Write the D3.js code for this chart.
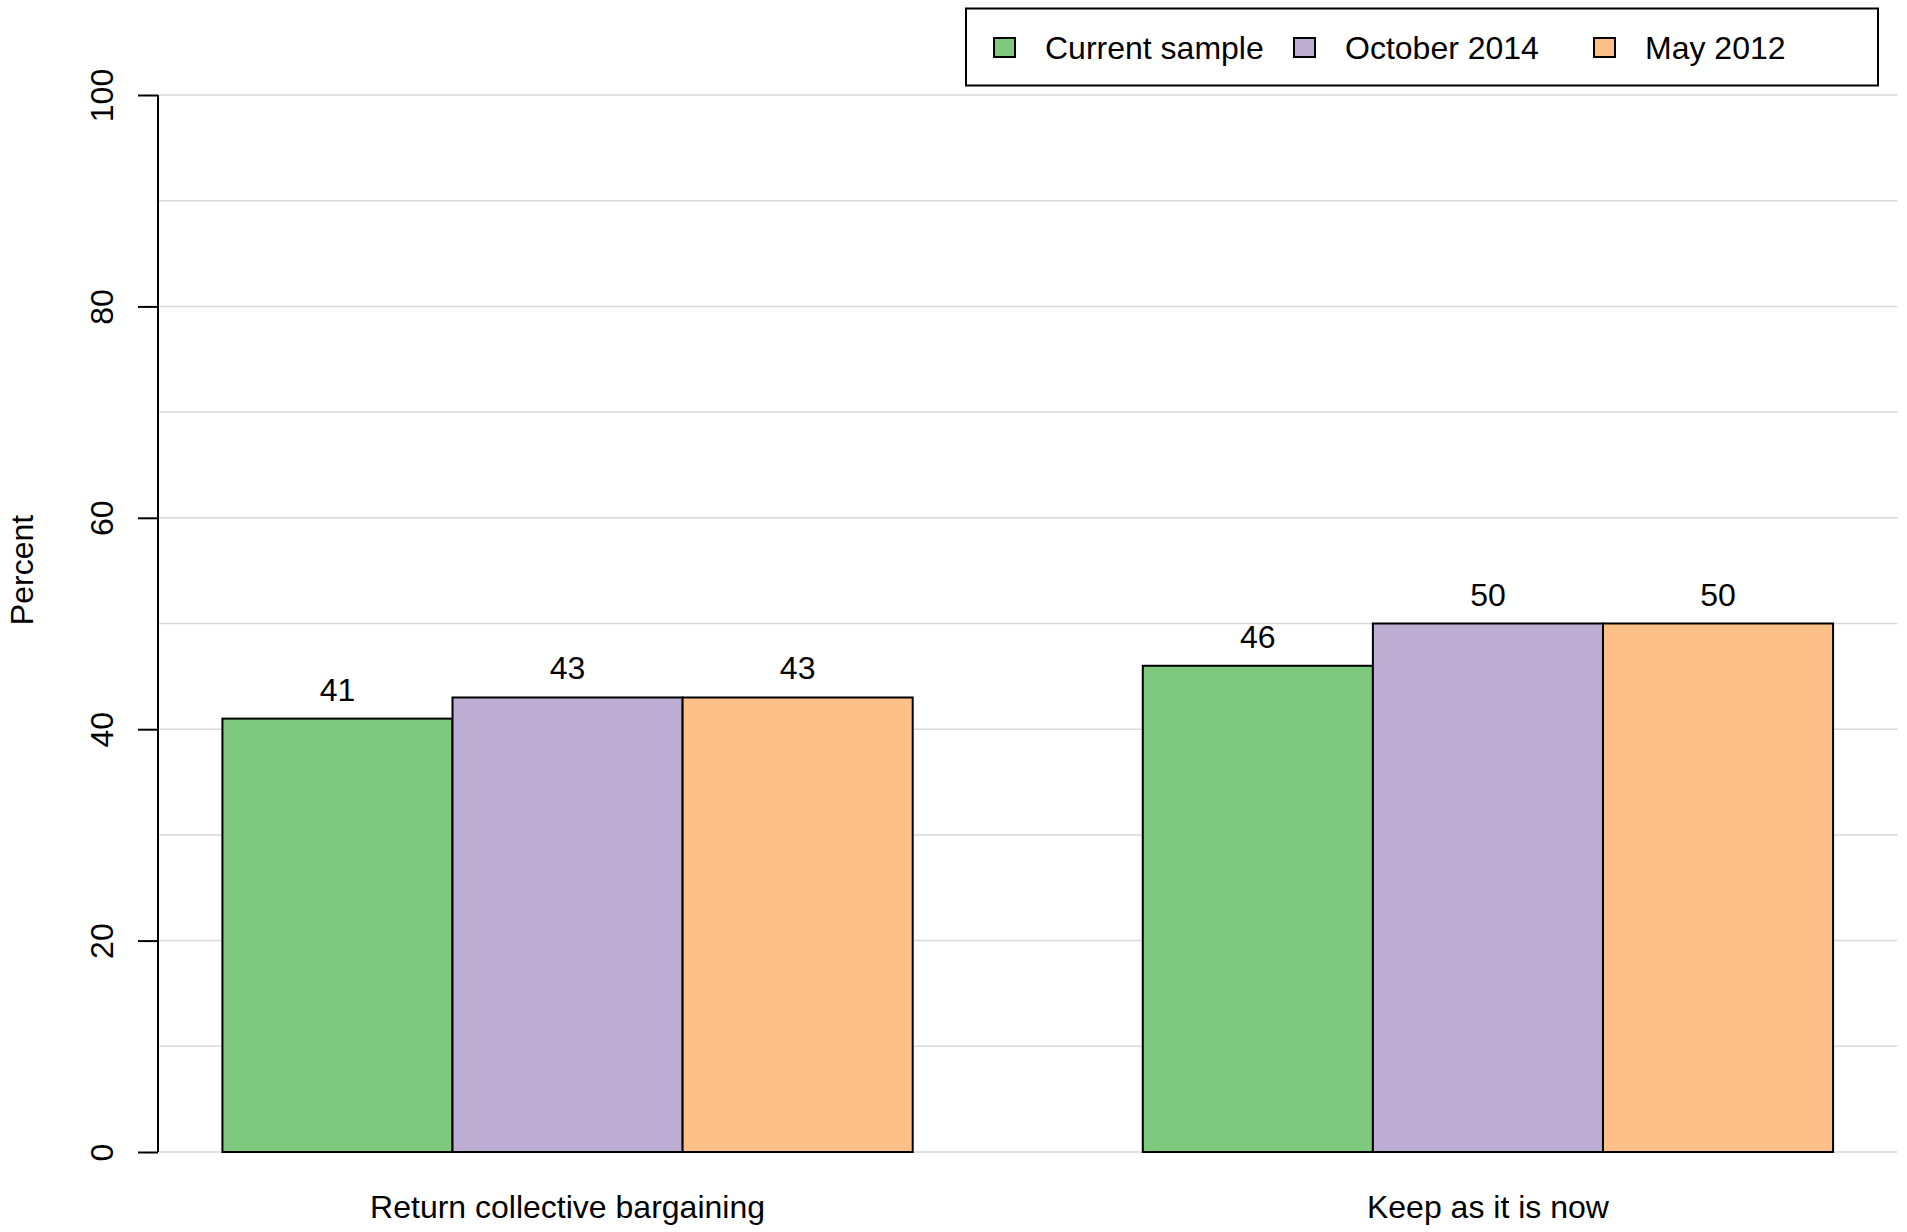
<!DOCTYPE html>
<html>
<head>
<meta charset="utf-8">
<script src="https://cdn.jsdelivr.net/npm/d3@7"></script>
<style>
  html, body { margin: 0; padding: 0; background: #fff; }
  svg { display: block; font-family: "Liberation Sans", Arial, sans-serif; }
</style>
</head>
<body>
<svg id="chart" width="1907" height="1232"></svg>
<script>
const categories = ["Return collective bargaining", "Keep as it is now"];
const seriesNames = ["Current sample", "October 2014", "May 2012"];
const currentSample = [41, 46];
const october2014 = [43, 50];
const may2012 = [43, 50];
const seriesValues = [currentSample, october2014, may2012];
const seriesColors = ["#7fc97f", "#beaed4", "#fdc086"];
const yTicks = [0, 20, 40, 60, 80, 100];
const gridTicks = [0, 10, 20, 30, 40, 50, 60, 70, 80, 90, 100];

const svg = d3.select("#chart");
const W = 1907, H = 1232;
const FS = 32;

// bar-unit x scale (R barplot style: space before each group = 1 bar width)
const nS = seriesNames.length;
const xU = d3.scale ? null : null;
const x = d3.scaleLinear().domain([0.72, 8.28]).range([158, 1897.5]);
const y = d3.scaleLinear().domain([0, 100]).range([1152, 95]);

// gridlines
svg.append("g").selectAll("line").data(gridTicks).join("line")
  .attr("x1", x(0.72)).attr("x2", x(8.28))
  .attr("y1", d => y(d)).attr("y2", d => y(d))
  .attr("stroke", "#d9d9d9").attr("stroke-width", 1.5);

// bars
const barData = [];
categories.forEach((c, ci) => {
  const start = 1 + ci * (nS + 1);
  seriesValues.forEach((vals, si) => {
    barData.push({ cat: c, ci, si, v: vals[ci], u0: start + si, u1: start + si + 1 });
  });
});

svg.append("g").selectAll("rect").data(barData).join("rect")
  .attr("x", d => x(d.u0)).attr("width", d => x(d.u1) - x(d.u0))
  .attr("y", d => y(d.v)).attr("height", d => y(0) - y(d.v))
  .attr("fill", d => seriesColors[d.si])
  .attr("stroke", "#000").attr("stroke-width", 2);

// value labels
svg.append("g").selectAll("text").data(barData).join("text")
  .attr("x", d => x((d.u0 + d.u1) / 2))
  .attr("y", d => y(d.v) - 18)
  .attr("text-anchor", "middle")
  .attr("font-size", FS)
  .attr("fill", "#000")
  .text(d => d.v);

// category labels
svg.append("g").selectAll("text").data(categories).join("text")
  .attr("x", (c, ci) => x(1 + ci * (nS + 1) + nS / 2))
  .attr("y", 1218)
  .attr("text-anchor", "middle")
  .attr("font-size", FS)
  .attr("fill", "#000")
  .text(c => c);

// y axis
const yAxis = d3.axisLeft(y).tickValues(yTicks).tickSize(20).tickPadding(0).tickFormat(d3.format("d"));
const gy = svg.append("g").attr("transform", "translate(158,0)").call(yAxis);
gy.select(".domain").attr("d", `M0,${y(0)}V${y(100)}`).attr("stroke", "#000").attr("stroke-width", 2);
gy.selectAll(".tick line").attr("stroke", "#000").attr("stroke-width", 2);
gy.selectAll(".tick text")
  .attr("x", null).attr("dy", null)
  .attr("transform", "translate(-45,0) rotate(-90)")
  .attr("text-anchor", "middle")
  .attr("y", 0)
  .attr("font-size", FS)
  .attr("font-family", "Liberation Sans, Arial, sans-serif")
  .attr("fill", "#000");

// y label
svg.append("text")
  .attr("transform", "translate(33,570) rotate(-90)")
  .attr("text-anchor", "middle")
  .attr("font-size", FS)
  .attr("fill", "#000")
  .text("Percent");

// legend
const lg = svg.append("g");
lg.append("rect").attr("x", 966).attr("y", 8.5).attr("width", 912).attr("height", 77)
  .attr("fill", "#fff").attr("stroke", "#000").attr("stroke-width", 2);
const legX = [994, 1294, 1594];
const items = lg.selectAll("g.item").data(seriesNames).join("g").attr("class", "item");
items.append("rect")
  .attr("x", (d, i) => legX[i]).attr("y", 38).attr("width", 21).attr("height", 19)
  .attr("fill", (d, i) => seriesColors[i]).attr("stroke", "#000").attr("stroke-width", 2);
items.append("text")
  .attr("x", (d, i) => legX[i] + 51).attr("y", 59)
  .attr("font-size", FS).attr("fill", "#000")
  .text(d => d);
</script>
</body>
</html>
